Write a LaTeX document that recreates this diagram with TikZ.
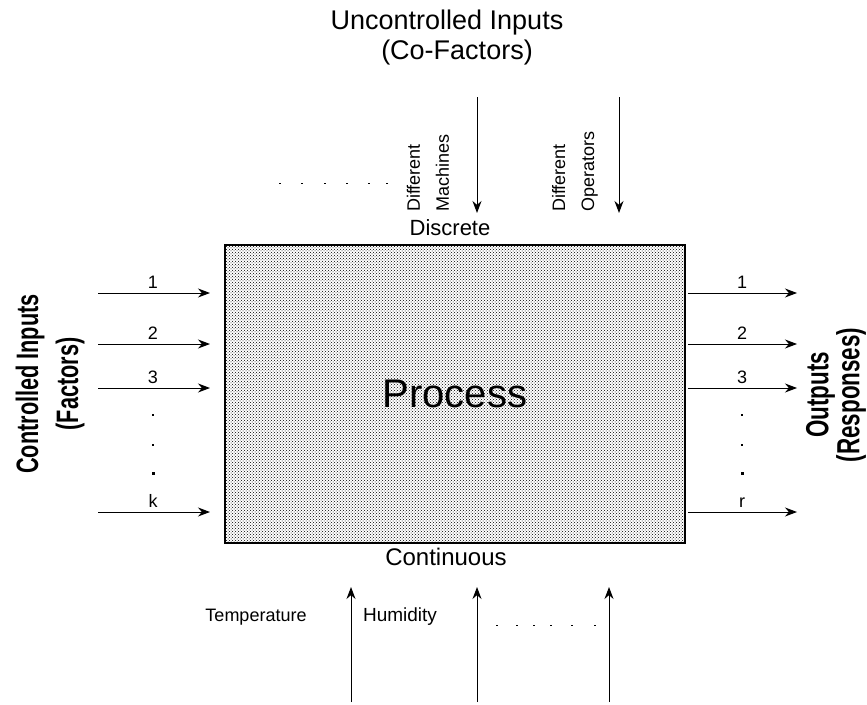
\documentclass[tikz,border=0pt]{standalone}
\usepackage{fontspec}
\setmainfont{Liberation Sans}
\newfontfamily\narrowfont{Liberation Sans}[FakeStretch=0.7]
\usetikzlibrary{arrows.meta,patterns}
\begin{document}
\begin{tikzpicture}[x=1pt,y=-1pt,
  arr/.style={line width=1pt,-{Stealth[length=12pt,width=9pt]}},
  lbl/.style={inner sep=0pt,font=\fontsize{18}{18}\selectfont},
  side/.style={rotate=90,align=center,inner sep=0pt},
  vlbl/.style={rotate=90,align=left,anchor=west,inner sep=0pt,font=\fontsize{18}{29}\selectfont},
  txt/.style={inner sep=0pt}]
\useasboundingbox (0,0) rectangle (867,704);
% process box
\node[draw,line width=1.5pt,pattern=crosshatch dots,minimum width=460pt,minimum height=298pt,
      inner sep=0pt,font=\fontsize{40}{40}\selectfont] (proc) at (455,394) {Process};
% titles
\node[txt,font=\fontsize{27}{27}\selectfont] (unc) at (447,23) {Uncontrolled Inputs};
\node[txt,font=\fontsize{27}{27}\selectfont] (cof) at (457,53) {(Co-Factors)};
\node[txt,font=\fontsize{22}{22}\selectfont] (disc) at (450,228) {Discrete};
\node[txt,font=\fontsize{24}{24}\selectfont] (cont) at (446,557) {Continuous};
\node[txt,font=\fontsize{18}{18}\selectfont] (temp) at (256,617) {Temperature};
\node[txt,font=\fontsize{19}{19}\selectfont] (hum) at (400,617) {Humidity};
% rotated small labels
\node[vlbl] (dm) at (428,212) {Different\\Machines};
\node[vlbl] (dop) at (575,212) {Different\\Operators};
% side labels
\node[side,font=\narrowfont\bfseries\fontsize{31}{40}\selectfont] (ctrl) at (50,384) {Controlled Inputs\\(Factors)};
\node[side,font=\narrowfont\bfseries\fontsize{32}{29}\selectfont] (outs) at (836,395) {Outputs\\(Responses)};
% left input arrows
\foreach \y/\t [count=\i] in {293/1,344/2,388/3,512/k} {
  \coordinate (li\i) at (98,\y);
  \coordinate (le\i) at (210,\y);
  \draw[arr] (li\i) -- (le\i);
  \node[lbl,anchor=south] (ll\i) at (153,\y-4) {\t};
}
% right output arrows
\foreach \y/\t [count=\i] in {293/1,344/2,388/3,512/r} {
  \coordinate (ri\i) at (688,\y);
  \coordinate (re\i) at (797,\y);
  \draw[arr] (ri\i) -- (re\i);
  \node[lbl,anchor=south] (rl\i) at (742,\y-4) {\t};
}
% vertical dots
\foreach \x in {153,742} {
  \fill (\x-1,414) rectangle (\x+1,416);
  \fill (\x-1,444) rectangle (\x+1,446);
  \fill (\x-1.5,471.5) rectangle (\x+1.5,474.5);
}
% top arrows
\coordinate (ta1) at (477,97); \coordinate (tb1) at (477,213);
\coordinate (ta2) at (619,97); \coordinate (tb2) at (619,213);
\draw[arr] (ta1) -- (tb1);
\draw[arr] (ta2) -- (tb2);
% bottom arrows
\coordinate (ba1) at (351,702); \coordinate (bb1) at (351,587);
\coordinate (ba2) at (477,702); \coordinate (bb2) at (477,587);
\coordinate (ba3) at (609,702); \coordinate (bb3) at (609,587);
\draw[arr] (ba1) -- (bb1);
\draw[arr] (ba2) -- (bb2);
\draw[arr] (ba3) -- (bb3);
% horizontal dots
\foreach \x in {280,302,325,347,369,387}
  \fill (\x-1,182.5) rectangle (\x+1,184);
\foreach \x in {497,517,534,551,572,595}
  \fill (\x-1,624.5) rectangle (\x+1,626);
\end{tikzpicture}
\end{document}
